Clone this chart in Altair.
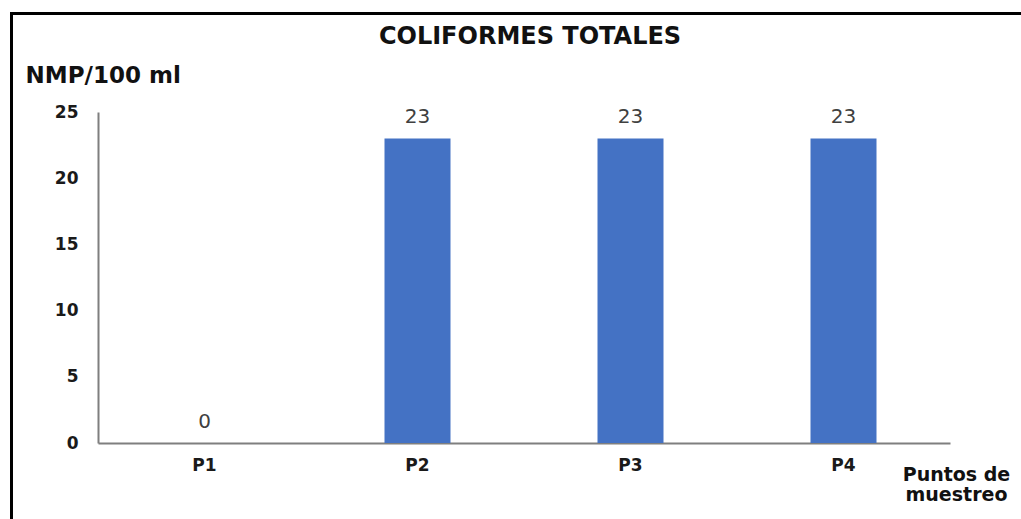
import altair as alt
import pandas as pd

categories = ["P1", "P2", "P3", "P4"]
values = [0, 23, 23, 23]
y_ticks = [0, 5, 10, 15, 20, 25]

df = pd.DataFrame({"punto": categories, "valor": values})
FONT = "DejaVu Sans"

x_enc = alt.X(
    "punto:N",
    sort=categories,
    scale=alt.Scale(paddingInner=0, paddingOuter=0),
    axis=alt.Axis(
        title=["Puntos de", "muestreo"],
        titleFont=FONT, titleFontWeight="bold", titleFontSize=19, titleColor="#111111",
        titleAngle=0, titleAlign="center", titleBaseline="alphabetic",
        titleX=858, titleY=37, titleLineHeight=20,
        labelFont=FONT, labelFontWeight="bold", labelFontSize=17, labelColor="#1a1a1a",
        labelAngle=0, labelPadding=14,
        ticks=False, domainColor="#7f7f7f", domainWidth=2, grid=False,
    ),
)
y_enc = alt.Y(
    "valor:Q",
    scale=alt.Scale(domain=[0, 25], nice=False),
    axis=alt.Axis(
        values=y_ticks,
        title="NMP/100 ml",
        titleFont=FONT, titleFontWeight="bold", titleFontSize=23, titleColor="#111111",
        titleAngle=0, titleAlign="left", titleBaseline="middle",
        titleX=-73, titleY=-37,
        labelFont=FONT, labelFontWeight="bold", labelFontSize=17, labelColor="#1a1a1a",
        labelPadding=20,
        ticks=False, domainColor="#7f7f7f", domainWidth=2, grid=False,
    ),
)

base = alt.Chart(df)
bars = base.mark_bar(color="#4472C4", size=66).encode(x=x_enc, y=y_enc)
labels = base.mark_text(
    font=FONT, fontSize=20, color="#404040", baseline="bottom", dy=-11
).encode(x=alt.X("punto:N", sort=categories), y="valor:Q", text="valor:Q")

title_df = pd.DataFrame({"t": ["COLIFORMES TOTALES"]})
title_mark = alt.Chart(title_df).mark_text(
    font=FONT, fontWeight="bold", fontSize=24, color="#111111",
    align="center", baseline="alphabetic"
).encode(x=alt.value(432), y=alt.value(-68), text="t:N")

frame_df = pd.DataFrame({"a": [0]})
left_border = alt.Chart(frame_df).mark_rule(color="#000000", strokeWidth=3).encode(
    x=alt.value(-86.5), y=alt.value(-100), y2=alt.value(407)
)
top_border = alt.Chart(frame_df).mark_rule(color="#000000", strokeWidth=3).encode(
    x=alt.value(-88), x2=alt.value(923), y=alt.value(-98.5)
)

chart = (
    alt.layer(bars, labels, title_mark, left_border, top_border)
    .properties(
        width=852,
        height=331,
        autosize=alt.AutoSizeParams(type="none"),
        padding={"left": 98, "top": 112, "right": 71, "bottom": 76},
        background="white",
    )
    .configure_view(stroke=None)
)

chart.save("out.html", embed_options={"renderer": "svg", "actions": False})
